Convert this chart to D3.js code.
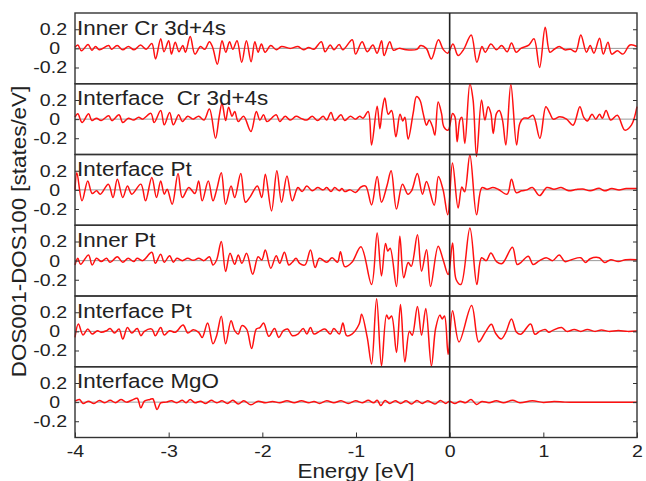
<!DOCTYPE html>
<html><head><meta charset="utf-8">
<script src="https://cdn.jsdelivr.net/npm/d3@7"></script>
<style>
body{margin:0;background:#fff}
svg{display:block}
text{font-family:"Liberation Sans",Arial,Helvetica,sans-serif;fill:#222;white-space:pre}
</style>
</head><body>
<svg id="c" width="646" height="481"></svg>
<script>
// ---------- data ----------
const panelLabels = ["Inner Cr 3d+4s", "Interface  Cr 3d+4s", "Interface Pt", "Inner Pt", "Interface Pt", "Interface MgO"];
const xTicks = [-4, -3, -2, -1, 0, 1, 2];
const yTicks = [-0.2, 0, 0.2];
const xTitle = "Energy [eV]";
const yTitle = "DOS001-DOS100 [states/eV]";

// [energy (eV), DOS001-DOS100 (states/eV)]
const innerCr = [[-4.00,0.01],[-3.97,0.035],[-3.93,-0.025],[-3.86,0.04],[-3.82,-0.02],[-3.78,0.02],[-3.74,-0.015],[-3.64,0.03],[-3.61,-0.01],[-3.55,0.03],[-3.49,-0.015],[-3.43,0.02],[-3.37,-0.015],[-3.30,0.035],[-3.24,-0.01],[-3.18,0.05],[-3.14,-0.11],[-3.085,0.10],[-3.05,-0.035],[-3.00,0.08],[-2.97,-0.06],[-2.93,0.065],[-2.89,-0.035],[-2.85,0.03],[-2.82,-0.04],[-2.77,0.125],[-2.72,-0.06],[-2.66,0.02],[-2.615,-0.01],[-2.565,0.07],[-2.53,0.01],[-2.48,-0.165],[-2.43,0.08],[-2.39,-0.04],[-2.35,0.07],[-2.315,-0.01],[-2.27,0.08],[-2.22,-0.145],[-2.17,0.08],[-2.12,-0.14],[-2.08,0.07],[-2.045,-0.04],[-2.01,0.045],[-1.97,-0.04],[-1.91,0.03],[-1.85,-0.015],[-1.795,0.02],[-1.70,0],[-1.62,0.02],[-1.56,-0.015],[-1.505,0.01],[-1.45,-0.01],[-1.37,0.07],[-1.33,-0.035],[-1.275,0.035],[-1.235,-0.015],[-1.18,0.04],[-1.14,-0.015],[-1.04,0.09],[-1.005,-0.06],[-0.935,0.07],[-0.88,-0.035],[-0.82,0.035],[-0.775,-0.05],[-0.727,0.08],[-0.70,-0.075],[-0.64,0.07],[-0.60,-0.02],[-0.54,0],[-0.465,-0.015],[-0.35,-0.01],[-0.31,0.03],[-0.25,0],[-0.195,-0.11],[-0.12,0.09],[-0.07,-0.01],[-0.02,-0.05],[0.035,0.045],[0.09,-0.075],[0.15,-0.01],[0.23,0.14],[0.29,-0.145],[0.345,0.02],[0.38,-0.04],[0.44,0.045],[0.50,-0.015],[0.555,0.03],[0.614,-0.035],[0.66,0.055],[0.71,-0.04],[0.76,0],[0.845,0.035],[0.90,0.10],[0.96,-0.2],[1.02,0.22],[1.07,-0.04],[1.115,-0.01],[1.17,0.02],[1.23,-0.015],[1.29,-0.01],[1.345,-0.035],[1.40,0.14],[1.46,-0.04],[1.50,0.03],[1.54,-0.05],[1.60,0.105],[1.64,-0.06],[1.69,0.065],[1.73,-0.06],[1.79,-0.025],[1.85,-0.06],[1.925,0.035],[2.00,0.02]];

const interfaceCr = [[-4.00,0.02],[-3.97,0.055],[-3.925,-0.035],[-3.855,0.055],[-3.82,-0.015],[-3.77,0.01],[-3.72,-0.015],[-3.64,0.035],[-3.605,-0.015],[-3.53,0.045],[-3.49,-0.035],[-3.43,0.01],[-3.375,-0.01],[-3.32,0.02],[-3.28,0],[-3.19,0.06],[-3.155,-0.035],[-3.085,0.09],[-3.047,-0.06],[-2.99,0.07],[-2.95,-0.06],[-2.893,0.045],[-2.854,-0.025],[-2.796,0.03],[-2.74,0],[-2.68,0.03],[-2.623,-0.01],[-2.565,0.105],[-2.50,-0.2],[-2.46,0.03],[-2.43,0.165],[-2.392,-0.015],[-2.36,0.125],[-2.323,0.03],[-2.295,0.08],[-2.257,-0.025],[-2.20,0.03],[-2.122,-0.13],[-2.064,0.08],[-2.026,-0.01],[-1.987,0.045],[-1.95,-0.025],[-1.852,0.045],[-1.814,-0.025],[-1.756,0.03],[-1.70,-0.01],[-1.64,0.03],[-1.58,0.005],[-1.525,-0.01],[-1.467,0.03],[-1.41,-0.015],[-1.35,0.03],[-1.313,-0.01],[-1.267,0.07],[-1.228,-0.015],[-1.16,0.045],[-1.12,-0.015],[-1.06,0.03],[-1.005,0],[-0.96,0.03],[-0.925,0.01],[-0.87,0.08],[-0.834,-0.27],[-0.774,0.135],[-0.745,-0.10],[-0.72,0.095],[-0.692,0.22],[-0.656,0.05],[-0.62,0.09],[-0.574,-0.185],[-0.53,0.05],[-0.50,-0.02],[-0.478,0.02],[-0.443,-0.21],[-0.39,0.06],[-0.354,0.235],[-0.318,0.20],[-0.283,0.06],[-0.247,-0.063],[-0.219,-0.01],[-0.183,-0.08],[-0.158,-0.167],[-0.123,0.18],[-0.087,0.06],[-0.062,-0.08],[-0.016,-0.115],[0.031,0.06],[0.056,0.025],[0.08,-0.237],[0.109,-0.01],[0.13,0.02],[0.162,-0.254],[0.216,0.37],[0.25,0.2],[0.287,-0.39],[0.34,0.2],[0.376,-0.01],[0.41,0.13],[0.44,0.06],[0.465,-0.15],[0.50,0.06],[0.53,0.09],[0.564,-0.01],[0.60,-0.27],[0.653,0.366],[0.714,-0.27],[0.749,-0.045],[0.79,0.01],[0.838,0.01],[0.89,0.04],[0.963,-0.2],[1.027,0.13],[1.07,0.06],[1.105,0.0],[1.176,0.025],[1.248,0.0],[1.318,-0.063],[1.39,0.13],[1.43,0.02],[1.47,-0.02],[1.52,0.05],[1.56,0.0],[1.60,0.05],[1.63,0.01],[1.67,0.09],[1.72,-0.01],[1.79,0.04],[1.87,-0.115],[1.94,-0.063],[2.0,0.13]];

const interfacePtA = [[-4.00,0.0],[-3.98,0.18],[-3.925,-0.115],[-3.864,0.094],[-3.817,-0.038],[-3.77,-0.01],[-3.73,-0.045],[-3.644,0.06],[-3.594,-0.08],[-3.548,0.11],[-3.49,-0.08],[-3.44,0.04],[-3.394,-0.045],[-3.297,0.06],[-3.247,-0.115],[-3.18,0.13],[-3.13,-0.08],[-3.085,0.094],[-3.047,-0.045],[-3.016,0.007],[-2.962,-0.15],[-2.90,0.17],[-2.854,-0.08],[-2.785,0.024],[-2.72,-0.038],[-2.68,0.094],[-2.642,-0.115],[-2.577,0.094],[-2.527,-0.115],[-2.488,0],[-2.438,0.18],[-2.392,-0.15],[-2.334,0.04],[-2.295,-0.08],[-2.23,0.17],[-2.18,-0.13],[-2.13,-0.073],[-2.053,0.04],[-2.006,-0.08],[-1.968,0.164],[-1.902,-0.22],[-1.845,0.2],[-1.795,-0.13],[-1.737,0.146],[-1.68,-0.115],[-1.62,0.024],[-1.575,-0.017],[-1.525,0.04],[-1.467,-0.01],[-1.41,0.024],[-1.35,0],[-1.313,0.024],[-1.267,-0.017],[-1.228,0.024],[-1.178,-0.01],[-1.15,0.015],[-1.12,-0.017],[-1.062,0],[-1.005,-0.028],[-0.947,0.03],[-0.897,0.04],[-0.834,-0.157],[-0.774,0.14],[-0.728,-0.13],[-0.67,0.04],[-0.625,0.2],[-0.568,-0.2],[-0.504,0.06],[-0.446,-0.045],[-0.407,-0.01],[-0.345,0.17],[-0.29,-0.045],[-0.247,0.087],[-0.165,-0.16],[-0.12,0.14],[-0.07,0.0],[-0.02,-0.26],[0.03,0.28],[0.09,-0.19],[0.13,0.03],[0.16,-0.02],[0.216,0.366],[0.287,-0.26],[0.344,0.024],[0.40,0.007],[0.46,0.024],[0.517,0.007],[0.614,-0.045],[0.66,0.11],[0.71,-0.028],[0.768,-0.01],[0.826,0],[0.883,0.024],[0.96,-0.06],[1.037,0.024],[1.114,0.007],[1.19,0.024],[1.27,-0.01],[1.346,0.003],[1.42,0.01],[1.50,-0.01],[1.596,0.017],[1.654,-0.01],[1.73,0.014],[1.808,0],[1.885,0.014],[2.0,0.014]];

const innerPt = [[-4.0,-0.045],[-3.97,0.024],[-3.94,-0.038],[-3.856,0.06],[-3.817,-0.045],[-3.77,0.024],[-3.72,-0.01],[-3.663,0.024],[-3.625,-0.017],[-3.548,0.04],[-3.49,-0.017],[-3.432,0.024],[-3.374,-0.01],[-3.336,0.024],[-3.278,0],[-3.18,0.087],[-3.143,-0.028],[-3.085,0.066],[-3.047,-0.017],[-2.99,0.052],[-2.95,-0.017],[-2.912,0.024],[-2.854,0],[-2.796,0.024],[-2.738,0.003],[-2.68,0.024],[-2.623,0],[-2.565,0.04],[-2.527,-0.045],[-2.488,0.007],[-2.438,0.2],[-2.392,-0.115],[-2.345,0.077],[-2.295,-0.038],[-2.257,0.06],[-2.218,-0.028],[-2.168,0.077],[-2.103,-0.143],[-2.045,0.04],[-2.006,0.007],[-1.968,0.11],[-1.91,-0.08],[-1.852,0.052],[-1.814,-0.028],[-1.764,0.087],[-1.717,-0.045],[-1.68,-0.017],[-1.64,0.024],[-1.602,-0.028],[-1.544,-0.045],[-1.486,0.11],[-1.436,-0.073],[-1.39,0.024],[-1.313,-0.017],[-1.255,0.03],[-1.197,-0.017],[-1.166,0.094],[-1.12,-0.063],[-1.043,-0.017],[-0.947,0.146],[-0.834,-0.25],[-0.774,0.29],[-0.728,-0.16],[-0.685,0.18],[-0.66,0.1],[-0.635,0.13],[-0.568,-0.27],[-0.532,0.255],[-0.49,-0.18],[-0.443,-0.02],[-0.41,-0.06],[-0.344,0.27],[-0.30,-0.11],[-0.247,0.115],[-0.204,-0.27],[-0.123,0.15],[-0.07,0.01],[-0.016,-0.145],[0.031,0.185],[0.07,-0.2],[0.12,-0.25],[0.216,0.34],[0.29,-0.25],[0.34,0.03],[0.39,0.0],[0.44,0.08],[0.50,-0.01],[0.56,-0.03],[0.67,0.14],[0.72,-0.04],[0.76,-0.02],[0.84,0.045],[0.89,-0.04],[0.96,0.0],[1.03,0.03],[1.10,0.0],[1.17,0.06],[1.23,-0.01],[1.30,0.01],[1.40,0.03],[1.45,-0.02],[1.50,0.02],[1.596,0.03],[1.654,-0.02],[1.72,0.01],[1.80,-0.01],[1.88,0.01],[2.0,0.01]];

const interfacePtB = [[-4.0,-0.063],[-3.964,0.077],[-3.914,-0.038],[-3.864,0.024],[-3.817,-0.028],[-3.76,0.007],[-3.72,-0.01],[-3.663,0.007],[-3.625,0.03],[-3.578,-0.017],[-3.53,0.024],[-3.49,-0.08],[-3.44,0.04],[-3.394,-0.017],[-3.336,0.03],[-3.297,-0.045],[-3.259,0],[-3.18,0.024],[-3.143,-0.045],[-3.085,0.04],[-3.047,-0.038],[-2.99,0.007],[-2.93,-0.01],[-2.846,0.066],[-2.796,-0.017],[-2.738,0.017],[-2.68,-0.01],[-2.642,-0.063],[-2.584,0.087],[-2.527,-0.13],[-2.488,-0.045],[-2.438,0.157],[-2.392,-0.13],[-2.334,0.11],[-2.295,0.007],[-2.257,-0.028],[-2.218,0.06],[-2.168,0.024],[-2.114,-0.18],[-2.064,0.024],[-2.026,0.04],[-1.987,0.087],[-1.93,-0.052],[-1.87,0.03],[-1.825,-0.063],[-1.775,0.007],[-1.73,0.024],[-1.68,-0.045],[-1.62,-0.028],[-1.563,0.03],[-1.525,-0.028],[-1.486,0.04],[-1.448,-0.028],[-1.39,0],[-1.332,0.024],[-1.274,-0.028],[-1.236,0.03],[-1.178,-0.028],[-1.14,0.087],[-1.1,-0.045],[-1.043,-0.028],[-0.966,0.077],[-0.94,0.18],[-0.88,-0.063],[-0.834,-0.34],[-0.78,0.34],[-0.728,-0.36],[-0.674,0.17],[-0.65,0.13],[-0.62,0.16],[-0.568,-0.22],[-0.525,0.28],[-0.478,-0.32],[-0.43,0.0],[-0.40,-0.04],[-0.344,0.26],[-0.30,-0.04],[-0.255,0.24],[-0.195,-0.36],[-0.15,0.03],[-0.105,0.17],[-0.08,0.13],[-0.055,0.16],[-0.016,-0.24],[0.031,0.216],[0.10,-0.11],[0.234,0.27],[0.31,-0.11],[0.38,-0.01],[0.445,0.075],[0.49,-0.02],[0.55,-0.08],[0.60,-0.01],[0.66,0.13],[0.714,-0.01],[0.76,-0.03],[0.864,0.077],[0.91,-0.03],[0.96,0.0],[1.02,0.02],[1.06,-0.01],[1.10,0.01],[1.195,0.04],[1.25,0.0],[1.33,0.02],[1.40,0.0],[1.47,0.02],[1.55,0.0],[1.62,0.015],[1.70,0.0],[1.80,0.01],[1.90,0.0],[2.0,0.005]];

const interfaceMgO = [[-4.0,0.01],[-3.952,0.028],[-3.914,-0.014],[-3.856,0.01],[-3.798,-0.014],[-3.74,0.017],[-3.682,-0.007],[-3.625,0.02],[-3.567,-0.007],[-3.51,0.028],[-3.45,0],[-3.394,0.02],[-3.336,0.04],[-3.297,-0.06],[-3.259,0.01],[-3.20,0.028],[-3.17,0.035],[-3.124,-0.077],[-3.085,-0.007],[-3.027,0],[-2.97,0.014],[-2.912,-0.007],[-2.854,0.02],[-2.816,-0.007],[-2.77,0.028],[-2.72,-0.007],[-2.66,0.01],[-2.604,-0.014],[-2.546,0.02],[-2.488,-0.007],[-2.43,0.014],[-2.372,-0.014],[-2.315,0.02],[-2.257,-0.02],[-2.199,0.014],[-2.122,-0.028],[-2.045,0.01],[-1.968,-0.007],[-1.891,0.007],[-1.814,-0.007],[-1.737,0.014],[-1.66,-0.007],[-1.583,0.014],[-1.505,-0.007],[-1.448,0.007],[-1.39,-0.014],[-1.313,0.014],[-1.236,-0.007],[-1.159,0.014],[-1.082,-0.014],[-1.005,0.014],[-0.928,-0.007],[-0.87,0.02],[-0.812,-0.007],[-0.774,0.02],[-0.735,-0.035],[-0.689,0.017],[-0.64,-0.014],[-0.581,0.014],[-0.523,-0.014],[-0.465,0.014],[-0.408,-0.02],[-0.35,0.017],[-0.292,-0.014],[-0.234,0.014],[-0.157,-0.02],[-0.099,0.017],[-0.041,-0.014],[-0.003,0.01],[0.055,-0.014],[0.113,0.01],[0.17,-0.007],[0.228,0.028],[0.286,-0.024],[0.344,0.007],[0.421,-0.007],[0.498,0.014],[0.575,-0.007],[0.672,0.02],[0.749,-0.007],[0.883,0.014],[1.0,-0.003],[1.114,0.007],[1.23,0],[1.384,0],[1.69,0],[2.0,0]];

const series = [innerCr, interfaceCr, interfacePtA, innerPt, interfacePtB, interfaceMgO];

// ---------- layout ----------
const mLeft = 75, mRight = 637, mTop = 13, mBottom = 437.5;
const nP = series.length;
const ph = (mBottom - mTop) / nP;
const sx = 1.15; // horizontal glyph stretch seen in the reference lettering
const svg = d3.select("#c");
const x = d3.scaleLinear().domain([-4, 2]).range([mLeft, mRight]);
const fmt = d => d === 0 ? "0" : (d < 0 ? "-" : "") + Math.abs(d).toFixed(1);

series.forEach((data, i) => {
  const y0 = mTop + i * ph, y1 = y0 + ph;
  const y = d3.scaleLinear().domain([-0.37, 0.37]).range([y1, y0]);
  const g = svg.append("g");

  g.append("line").attr("x1", mLeft).attr("x2", mRight)
    .attr("y1", y(0)).attr("y2", y(0))
    .attr("stroke", "#9a9a9a").attr("stroke-width", 1);

  const line = d3.line().x(d => x(d[0])).y(d => y(d[1])).curve(d3.curveCatmullRom.alpha(0.5));
  g.append("path").datum(data).attr("d", line)
    .attr("fill", "none").attr("stroke", "#ff1010").attr("stroke-width", 1.5)
    .attr("stroke-linejoin", "round");

  const ax = g.append("g").attr("transform", `translate(${mLeft},0)`)
    .call(d3.axisLeft(y).tickValues(yTicks).tickSize(-4).tickPadding(8).tickFormat(fmt));
  ax.select(".domain").remove();
  ax.selectAll("line").attr("stroke", "#333");
  ax.selectAll("text").attr("font-size", 17).attr("fill", "#222")
    .attr("font-family", '"Liberation Sans",Arial,sans-serif')
    .attr("x", null)
    .attr("transform", d => `translate(${d === 0 ? -15 : -8},0) scale(${sx},1)`);

  const ar = g.append("g").attr("transform", `translate(${mRight},0)`)
    .call(d3.axisRight(y).tickValues(yTicks).tickSize(-4).tickFormat(""));
  ar.select(".domain").remove();
  ar.selectAll("line").attr("stroke", "#333");

  g.append("text").attr("transform", `translate(${mLeft + 2},${y0 + 21.5}) scale(${sx},1)`)
    .attr("font-size", 19.5).text(panelLabels[i]);

  g.append("rect").attr("x", mLeft).attr("y", y0).attr("width", mRight - mLeft).attr("height", ph)
    .attr("fill", "none").attr("stroke", "#333").attr("stroke-width", 1.4);

  if (i === nP - 1) {
    const axb = svg.append("g").attr("transform", `translate(0,${y1})`)
      .call(d3.axisBottom(x).tickValues(xTicks).tickSize(-5).tickPadding(7).tickFormat(d3.format("d")));
    axb.select(".domain").remove();
    axb.selectAll("line").attr("stroke", "#333");
    axb.selectAll("text").attr("font-size", 17).attr("fill", "#222")
      .attr("font-family", '"Liberation Sans",Arial,sans-serif')
      .attr("transform", `scale(${sx},1)`)
      .text(d => (d < 0 ? "-" : "") + Math.abs(d));
  }
});

svg.append("line").attr("x1", x(0)).attr("x2", x(0)).attr("y1", mTop).attr("y2", mBottom)
  .attr("stroke", "#222").attr("stroke-width", 1.6);

svg.append("text").attr("transform", `translate(${(mLeft + mRight) / 2},478) scale(${sx},1)`)
  .attr("text-anchor", "middle").attr("font-size", 19.5).text(xTitle);
svg.append("text").attr("transform", `translate(26,231.5) rotate(-90) scale(${sx},1)`)
  .attr("text-anchor", "middle").attr("font-size", 19.5).text(yTitle);
</script>
</body></html>
